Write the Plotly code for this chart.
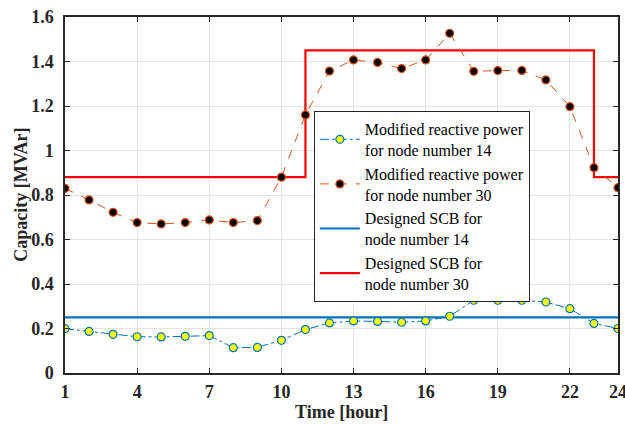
import plotly.graph_objects as go

hours = list(range(1, 25))
node14_q = [0.199, 0.187, 0.174, 0.163, 0.162, 0.165, 0.168, 0.114, 0.115, 0.147, 0.195, 0.225,
            0.234, 0.232, 0.228, 0.234, 0.255, 0.327, 0.327, 0.327, 0.319, 0.289, 0.223, 0.200]
node30_q = [0.830, 0.778, 0.722, 0.676, 0.670, 0.676, 0.688, 0.676, 0.685, 0.880, 1.160, 1.357,
            1.407, 1.396, 1.368, 1.407, 1.527, 1.356, 1.359, 1.360, 1.317, 1.197, 0.923, 0.833]
scb14_x = [1, 24]
scb14_y = [0.25, 0.25]
scb30_x = [1, 11, 23, 24]
scb30_y = [0.88, 1.45, 0.88, 0.88]
x_ticks = [1, 4, 7, 10, 13, 16, 19, 22, 24]
y_ticks = [0, 0.2, 0.4, 0.6, 0.8, 1.0, 1.2, 1.4, 1.6]
y_ticktext = ["0", "0.2", "0.4", "0.6", "0.8", "1", "1.2", "1.4", "1.6"]
x_title = "Time [hour]"
y_title = "Capacity [MVAr]"

BLUE = "#0072BD"
ORANGE = "#D95319"
AX = "#262626"

fig = go.Figure()
fig.add_trace(go.Scatter(x=scb14_x, y=scb14_y, mode="lines",
                         line=dict(color=BLUE, width=2.2),
                         name="Designed SCB for<br>node number 14", legendrank=3))
fig.add_trace(go.Scatter(x=scb30_x, y=scb30_y, mode="lines", line_shape="hv",
                         line=dict(color="#FF0000", width=2.2),
                         name="Designed SCB for<br>node number 30", legendrank=4))
fig.add_trace(go.Scatter(x=hours, y=node14_q, mode="lines+markers",
                         line=dict(color=BLUE, width=1, dash="dashdot"),
                         marker=dict(color="#FFFF00", size=8, line=dict(color=BLUE, width=1.2)),
                         name="Modified reactive power<br>for node number 14", legendrank=1))
fig.add_trace(go.Scatter(x=hours, y=node30_q, mode="lines+markers",
                         line=dict(color=ORANGE, width=1, dash="dash"),
                         marker=dict(color="#000000", size=8, line=dict(color=ORANGE, width=1.2)),
                         name="Modified reactive power<br>for node number 30", legendrank=2))

tickfont = dict(family="Liberation Serif", size=18, color=AX, weight="bold")
titlefont = dict(family="Liberation Serif", size=18, color=AX, weight="bold")
axis_common = dict(showline=True, linecolor=AX, linewidth=1.5, mirror="ticks",
                   ticks="inside", ticklen=5, tickcolor=AX, tickwidth=1.2,
                   showgrid=True, gridcolor="#e3e3e3", gridwidth=1, zeroline=False,
                   tickfont=tickfont, automargin=False, ticklabeloverflow="allow")

fig.update_xaxes(range=[1, 24], tickvals=x_ticks, ticklabelstandoff=2, **axis_common)
fig.update_yaxes(range=[0, 1.6], tickvals=y_ticks, ticktext=y_ticktext,
                 ticklabelstandoff=6, **axis_common)

fig.add_annotation(text=x_title, xref="paper", yref="paper", x=0.5, y=-0.11,
                   xanchor="center", yanchor="middle", showarrow=False, font=titlefont)
fig.add_annotation(text=y_title, xref="paper", yref="paper", x=-0.08, y=0.5,
                   xanchor="center", yanchor="middle", textangle=-90, showarrow=False,
                   font=titlefont)

fig.update_layout(
    width=625, height=424,
    margin=dict(l=65, r=7, t=17, b=51),
    plot_bgcolor="white", paper_bgcolor="white",
    font=dict(family="Liberation Serif", color=AX),
    legend=dict(x=0.45, y=0.736, xanchor="left", yanchor="top",
                bgcolor="white", bordercolor=AX, borderwidth=1,
                font=dict(family="Liberation Serif", size=16, color="#000000"),
                itemwidth=40, tracegroupgap=0),
)

fig.write_html("out.html")
